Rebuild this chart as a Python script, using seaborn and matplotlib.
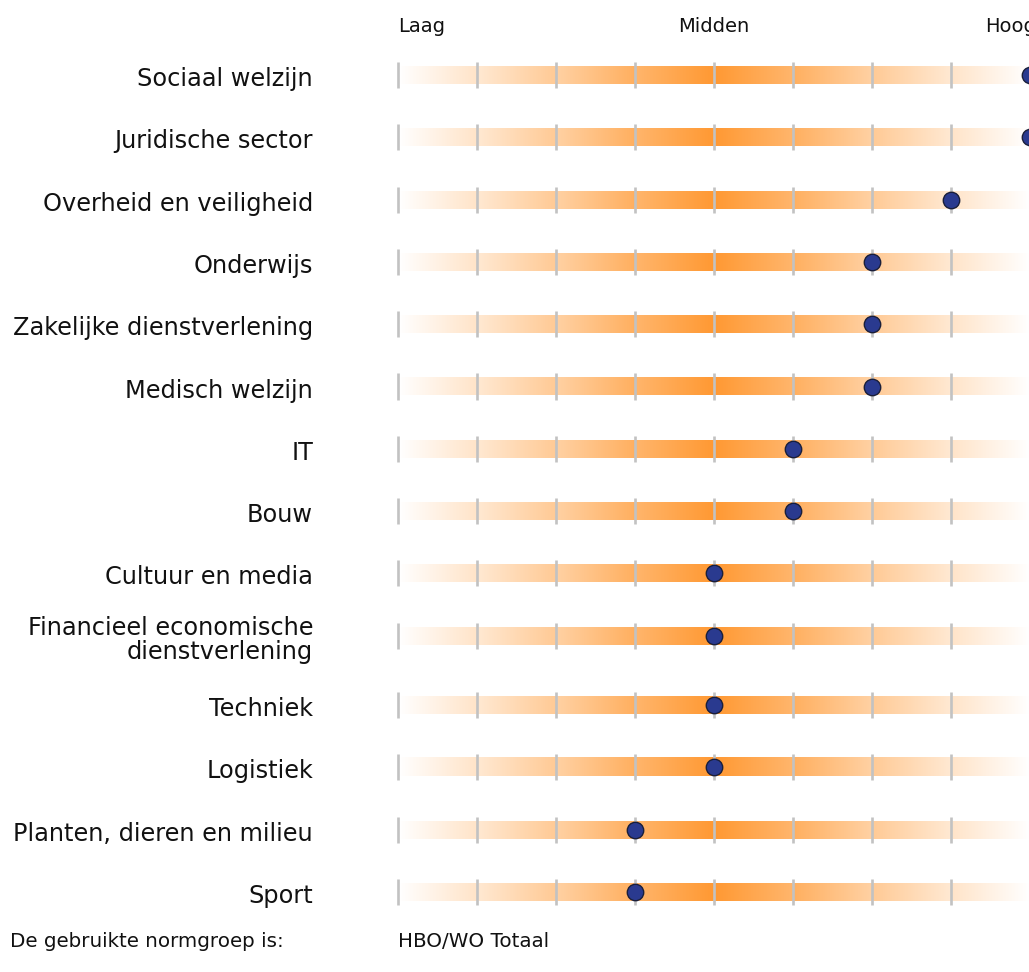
import numpy as np
import pandas as pd
import matplotlib
matplotlib.use("Agg")
import matplotlib.pyplot as plt
import seaborn as sns
from matplotlib.colors import LinearSegmentedColormap

# ---------------- data ----------------
categories = [
    "Sociaal welzijn",
    "Juridische sector",
    "Overheid en veiligheid",
    "Onderwijs",
    "Zakelijke dienstverlening",
    "Medisch welzijn",
    "IT",
    "Bouw",
    "Cultuur en media",
    "Financieel economische\ndienstverlening",
    "Techniek",
    "Logistiek",
    "Planten, dieren en milieu",
    "Sport",
]
scores = [9, 9, 8, 7, 7, 7, 6, 6, 5, 5, 5, 5, 4, 4]
scale_ticks = [1, 2, 3, 4, 5, 6, 7, 8, 9]
header_labels = ["Laag", "Midden", "Hoog"]
footer_label = "De gebruikte normgroep is:"
footer_value = "HBO/WO Totaal"

# ---------------- style ----------------
sns.set_theme(style="white")
plt.rcParams["font.family"] = ["DejaVu Sans"]

W, H = 1029, 972
fig = plt.figure(figsize=(W / 100, H / 100), dpi=100)
ax = fig.add_axes([0, 0, 1, 1])

X0_PX, UNIT_PX = 398.0, 79.0          # pixel of value 1, pixels per unit
def px2x(p):
    return 1 + (p - X0_PX) / UNIT_PX

# row positions (pixel rows), extra gap after the two-line label
row_step, row_top = 62.3, 75.0
ypos = []
for i, c in enumerate(categories):
    extra = 7 if i > categories.index("Financieel economische\ndienstverlening") else 0
    ypos.append(row_top + row_step * i + extra)

orange = (1.0, 0.60, 0.20)
cmap = LinearSegmentedColormap.from_list("wo", [(1, 1, 1), orange])

# gradient per segment (outer -> inner), stepped at every tick
n = 900
xs = np.linspace(1, 9, n)
dist = 4 - np.abs(xs - 5)              # 0 at ends, 4 at centre
seg = np.clip(np.floor(dist), 0, 3)
frac = dist - seg
starts = np.array([0.0, 0.22, 0.45, 0.72])
ends = np.array([0.27, 0.52, 0.78, 1.00])
vals = starts[seg.astype(int)] + (ends - starts)[seg.astype(int)] * frac
grad = vals[np.newaxis, :]

bar_h = 9
for y in ypos:
    ax.imshow(grad, extent=[1, 9, y + bar_h, y - bar_h], aspect="auto",
              cmap=cmap, vmin=0, vmax=1, interpolation="bilinear", zorder=1)
    ax.vlines(scale_ticks, y - 13, y + 13, color="#c2c2c2", lw=1.9, zorder=2)

df = pd.DataFrame({"cat": categories, "score": scores, "y": ypos})
sns.scatterplot(data=df, x="score", y="y", ax=ax, s=140, color="#2a3a8f",
                edgecolor="#1a1f3a", linewidth=1.0, zorder=3, legend=False,
                clip_on=False)

# category labels
for c, y in zip(categories, ypos):
    ax.text(px2x(313), y + 4, c, ha="right", va="center", fontsize=17.3,
            color="#111111", multialignment="right", linespacing=1.0)

# header
hy = 27
ax.text(1, hy, header_labels[0], ha="left", va="center", fontsize=14, color="#111111")
ax.text(5, hy, header_labels[1], ha="center", va="center", fontsize=14, color="#111111")
ax.text(px2x(985), hy, header_labels[2], ha="left", va="center", fontsize=14, color="#111111")

# footer
fy = 941
ax.text(px2x(10), fy, footer_label, ha="left", va="center", fontsize=14.3, color="#111111")
ax.text(1, fy, footer_value, ha="left", va="center", fontsize=14.3, color="#111111")

ax.set_xlim(px2x(0), px2x(W))
ax.set_ylim(H, 0)
ax.set_axis_off()
ax.set_xlabel("")
ax.set_ylabel("")

fig.savefig("out.png", dpi=100, facecolor="white")
